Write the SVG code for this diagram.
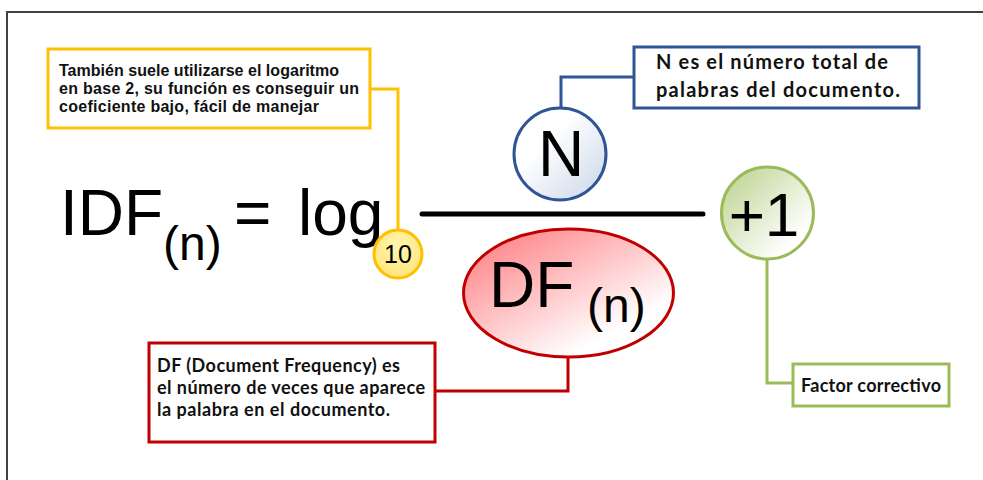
<svg xmlns="http://www.w3.org/2000/svg" width="983" height="480" viewBox="0 0 983 480">
  <defs>
    <linearGradient id="gBlue" x1="0" y1="0" x2="1" y2="1">
      <stop offset="0.35" stop-color="#ffffff"/>
      <stop offset="1" stop-color="#c9d5e8"/>
    </linearGradient>
    <linearGradient id="gGreen" x1="0" y1="0" x2="1" y2="1">
      <stop offset="0" stop-color="#b9d08a"/>
      <stop offset="0.8" stop-color="#ffffff"/>
    </linearGradient>
    <linearGradient id="gRed" x1="0.15" y1="0.1" x2="0.85" y2="0.9">
      <stop offset="0" stop-color="#ff8a8e"/>
      <stop offset="0.85" stop-color="#ffffff"/>
    </linearGradient>
    <radialGradient id="gYellow" cx="0.5" cy="0.35" r="0.6">
      <stop offset="0" stop-color="#fff6b0"/>
      <stop offset="1" stop-color="#ffe680"/>
    </radialGradient>
  </defs>
  <style>
    .formula { font-family: "Liberation Sans", Arial, sans-serif; fill: #000; }
    .note { font-family: Lato, "Open Sans", sans-serif; font-weight: bold; fill: #111; }
    .noteA { font-family: "Liberation Sans", Arial, sans-serif; font-weight: bold; fill: #111; }
    .box { fill: #fff; stroke-width: 3; }
    .wire { fill: none; stroke-width: 3; }
  </style>

  <rect width="983" height="480" fill="#fff"/>
  <!-- frame -->
  <path d="M7,480 V12 H983" fill="none" stroke="#404040" stroke-width="2"/>

  <!-- connectors -->
  <g id="connectors">
    <path class="wire" d="M370,89 H398 V229" stroke="#ffc000"/>
    <path class="wire" d="M634,77 H561 V107" stroke="#2f5597"/>
    <path class="wire" d="M568,357 V391 H435" stroke="#c00000"/>
    <path class="wire" d="M767,260 V383 H793" stroke="#9bbb59"/>
  </g>

  <!-- formula -->
  <g id="formula">
    <text class="formula" x="60" y="235" font-size="64">IDF</text>
    <text class="formula" x="163" y="260" font-size="48">(n)</text>
    <text class="formula" x="234" y="235" font-size="64">=</text>
    <text class="formula" x="298" y="235" font-size="64">log</text>
    <line x1="422" y1="214" x2="703" y2="214" stroke="#000" stroke-width="5" stroke-linecap="round"/>
  </g>

  <g id="base10">
    <circle cx="398" cy="254" r="24" fill="url(#gYellow)" stroke="#ffc000" stroke-width="3"/>
    <text class="formula" x="398" y="263" font-size="25" text-anchor="middle">10</text>
  </g>

  <g id="nodeN">
    <circle cx="560" cy="154" r="46" fill="url(#gBlue)" stroke="#2f5597" stroke-width="3"/>
    <text class="formula" x="561" y="176" font-size="64" text-anchor="middle">N</text>
  </g>

  <g id="nodeDF">
    <ellipse cx="568.5" cy="293" rx="105" ry="64" fill="url(#gRed)" stroke="#c00000" stroke-width="3"/>
    <text class="formula" x="489" y="307" font-size="64">DF</text>
    <text class="formula" x="587" y="322" font-size="48">(n)</text>
  </g>

  <g id="nodePlus1">
    <circle cx="767.5" cy="213" r="46" fill="url(#gGreen)" stroke="#9bbb59" stroke-width="3"/>
    <text class="formula" x="764" y="236" font-size="62" text-anchor="middle">+1</text>
  </g>

  <g id="noteLog">
    <rect class="box" x="48" y="49" width="322" height="79" stroke="#ffc000"/>
    <text class="noteA" font-size="16">
      <tspan x="59" y="76" textLength="280">También suele utilizarse el logaritmo</tspan>
      <tspan x="59" y="94" textLength="300">en base 2, su función es conseguir un</tspan>
      <tspan x="59" y="112" textLength="260">coeficiente bajo, fácil de manejar</tspan>
    </text>
  </g>

  <g id="noteN">
    <rect class="box" x="634" y="47" width="285" height="61" stroke="#2f5597"/>
    <text class="note" font-size="20">
      <tspan x="656" y="69" textLength="232">N es el número total de</tspan>
      <tspan x="656" y="97" textLength="244">palabras del documento.</tspan>
    </text>
  </g>

  <g id="noteDF">
    <rect class="box" x="149" y="343" width="286" height="99" stroke="#c00000"/>
    <text class="note" font-size="18">
      <tspan x="157" y="372" textLength="243">DF (Document Frequency) es</tspan>
      <tspan x="157" y="394" textLength="268">el número de veces que aparece</tspan>
      <tspan x="157" y="416" textLength="233">la palabra en el documento.</tspan>
    </text>
  </g>

  <g id="noteFactor">
    <rect class="box" x="793" y="364" width="156" height="42" stroke="#9bbb59"/>
    <text class="note" font-size="18" x="801" y="392" textLength="140">Factor correctivo</text>
  </g>
</svg>
